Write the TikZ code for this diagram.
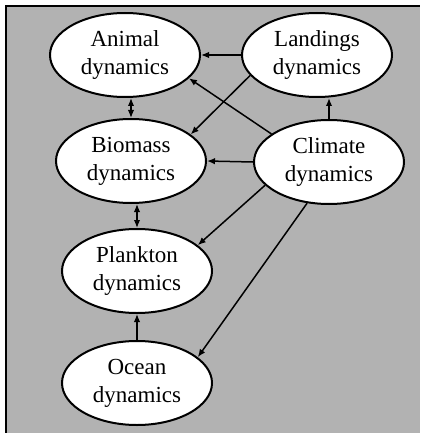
\documentclass[tikz,border=0pt]{standalone}
\usepackage{fontspec}
\setmainfont{Liberation Serif}
\usetikzlibrary{arrows.meta}
\usetikzlibrary{shapes.geometric}

\begin{document}
\begin{tikzpicture}[x=1pt,y=-1pt,->,>={Latex[length=8pt,width=6.5pt]},line width=1.5pt,
      dyn/.style={ellipse,draw,fill=white,line width=2pt,minimum width=150pt,minimum height=84pt,inner sep=0pt,align=center,font=\fontsize{23}{28}\selectfont}]
      \useasboundingbox (0,0) rectangle (420,433);
      \fill[black!30] (6,6) rectangle (420,433);
      \draw[-,line width=2.2pt] (6,433) -- (6,6) -- (420,6);
      \node[dyn] (animal) at (125,55) {Animal\\dynamics};
      \node[dyn] (landings) at (317,55) {Landings\\dynamics};
      \node[dyn] (biomass) at (131,161) {Biomass\\dynamics};
      \node[dyn] (climate) at (329,162) {Climate\\dynamics};
      \node[dyn] (plankton) at (137,271) {Plankton\\dynamics};
      \node[dyn] (ocean) at (137,383) {Ocean\\dynamics};
      \draw (landings.west) -- (animal.east);
      \draw (climate.154) -- (animal.-20);
      \draw (landings.-163) -- (biomass.24);
      \draw (climate.north) -- (landings.south -| climate.north);
      \draw (climate.west) -- (biomass.east);
      \draw[<->] (biomass.north) -- (biomass.north |- animal.south);
      \draw[<->] (plankton.north) -- (plankton.north |- biomass.south);
      \draw (ocean.north) -- (plankton.south);
      \draw (climate.-160) -- (plankton.23);
      \draw (climate.-118) -- (ocean.23);
    \end{tikzpicture}
\end{document}
